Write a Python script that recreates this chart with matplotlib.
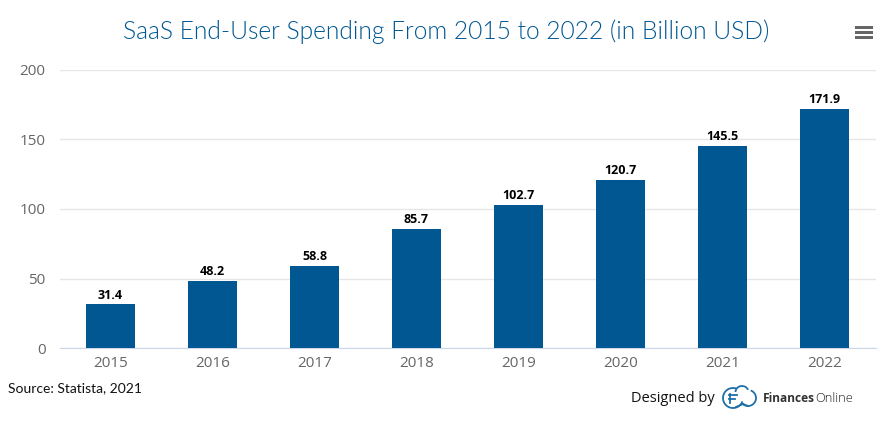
import matplotlib
matplotlib.use('Agg')
import matplotlib.pyplot as plt
from matplotlib.patches import Arc, Rectangle

W, H = 884, 429

years = ['2015', '2016', '2017', '2018', '2019', '2020', '2021', '2022']
spending = [31.4, 48.2, 58.8, 85.7, 102.7, 120.7, 145.5, 171.9]
y_ticks = [0, 50, 100, 150, 200]

plt.rcParams['font.family'] = ['Lato', 'DejaVu Sans']

fig = plt.figure(figsize=(W / 100, H / 100), dpi=100, facecolor='white')
ax = fig.add_axes([59.5 / W, 1 - 348 / H, 816 / W, 278 / H])

# bars and value labels
bars = ax.bar(range(len(years)), spending, width=0.485, color='#005792', zorder=3)
for rect, val in zip(bars, spending):
    ax.annotate(f'{val}', (rect.get_x() + rect.get_width() / 2, val), xytext=(0, 2),
                textcoords='offset points', ha='center', va='bottom', fontsize=9,
                fontweight='bold', color='black', family=['Open Sans', 'DejaVu Sans'])

ax.set_xlim(-0.5, 7.5)
ax.set_ylim(0, 200)
ax.set_xticks(range(len(years)))
ax.set_xticklabels(years)
ax.set_yticks(y_ticks)
ax.tick_params(axis='both', length=0, labelsize=11, labelcolor='#666666')
ax.tick_params(axis='x', pad=6)
ax.tick_params(axis='y', pad=10)
for lab in ax.get_xticklabels() + ax.get_yticklabels():
    lab.set_fontfamily(['Open Sans', 'DejaVu Sans'])
ax.grid(axis='y', color='#e6e6e6', linewidth=1, zorder=0)
for s in ['top', 'right', 'left']:
    ax.spines[s].set_visible(False)
ax.spines['bottom'].set_color('#ccd6eb')

# title and footer text
fig.text(446 / W, 1 - 32 / H, 'SaaS End-User Spending From 2015 to 2022 (in Billion USD)',
         ha='center', va='center', fontsize=17.75, fontweight=300, color='#005792')
fig.text(8 / W, 1 - 388 / H, 'Source: Statista, 2021', ha='left', va='center',
         fontsize=10, color='#111111')
fig.text(631 / W, 1 - 398 / H, 'Designed by', ha='left', va='center', fontsize=10.5,
         color='#111111', family=['Open Sans', 'DejaVu Sans'])
fig.text(763 / W, 1 - 398 / H, 'Finances', ha='left', va='center', fontsize=8.6,
         fontweight='bold', color='#333333', family=['Open Sans', 'DejaVu Sans'])
fig.text(815.5 / W, 1 - 398 / H, 'Online', ha='left', va='center', fontsize=9.3,
         fontweight='light', color='#222222', family=['Open Sans', 'DejaVu Sans'])

# overlay in pixel coordinates for the menu icon and logo
ov = fig.add_axes([0, 0, 1, 1], facecolor='none')
ov.set_xlim(0, W)
ov.set_ylim(H, 0)
ov.axis('off')
for y in [27.5, 32.5, 37.5]:
    ov.add_patch(Rectangle((855, y - 1.4), 18, 2.8, color='#666666', lw=0))

logo = '#1f6fa8'
lw = 1.3
# y axis is flipped here, so arc angles run clockwise on screen
ov.add_patch(Arc((733, 398), 20, 20, theta1=20, theta2=290, color=logo, lw=lw))
ov.add_patch(Arc((742, 392), 13, 12, theta1=180, theta2=340, color=logo, lw=lw))
ov.add_patch(Arc((748, 398), 16, 16, theta1=-70, theta2=130, color=logo, lw=lw))
ov.plot([736, 743], [407, 404], color=logo, lw=lw)
ov.plot([743, 748], [404, 406], color=logo, lw=lw)
ov.plot([729, 737], [394.5, 394.5], color=logo, lw=lw)
ov.plot([729.5, 729.5], [394, 403], color=logo, lw=lw)
ov.plot([729, 735], [398.5, 398.5], color=logo, lw=lw)

fig.savefig('out.png', dpi=100)
